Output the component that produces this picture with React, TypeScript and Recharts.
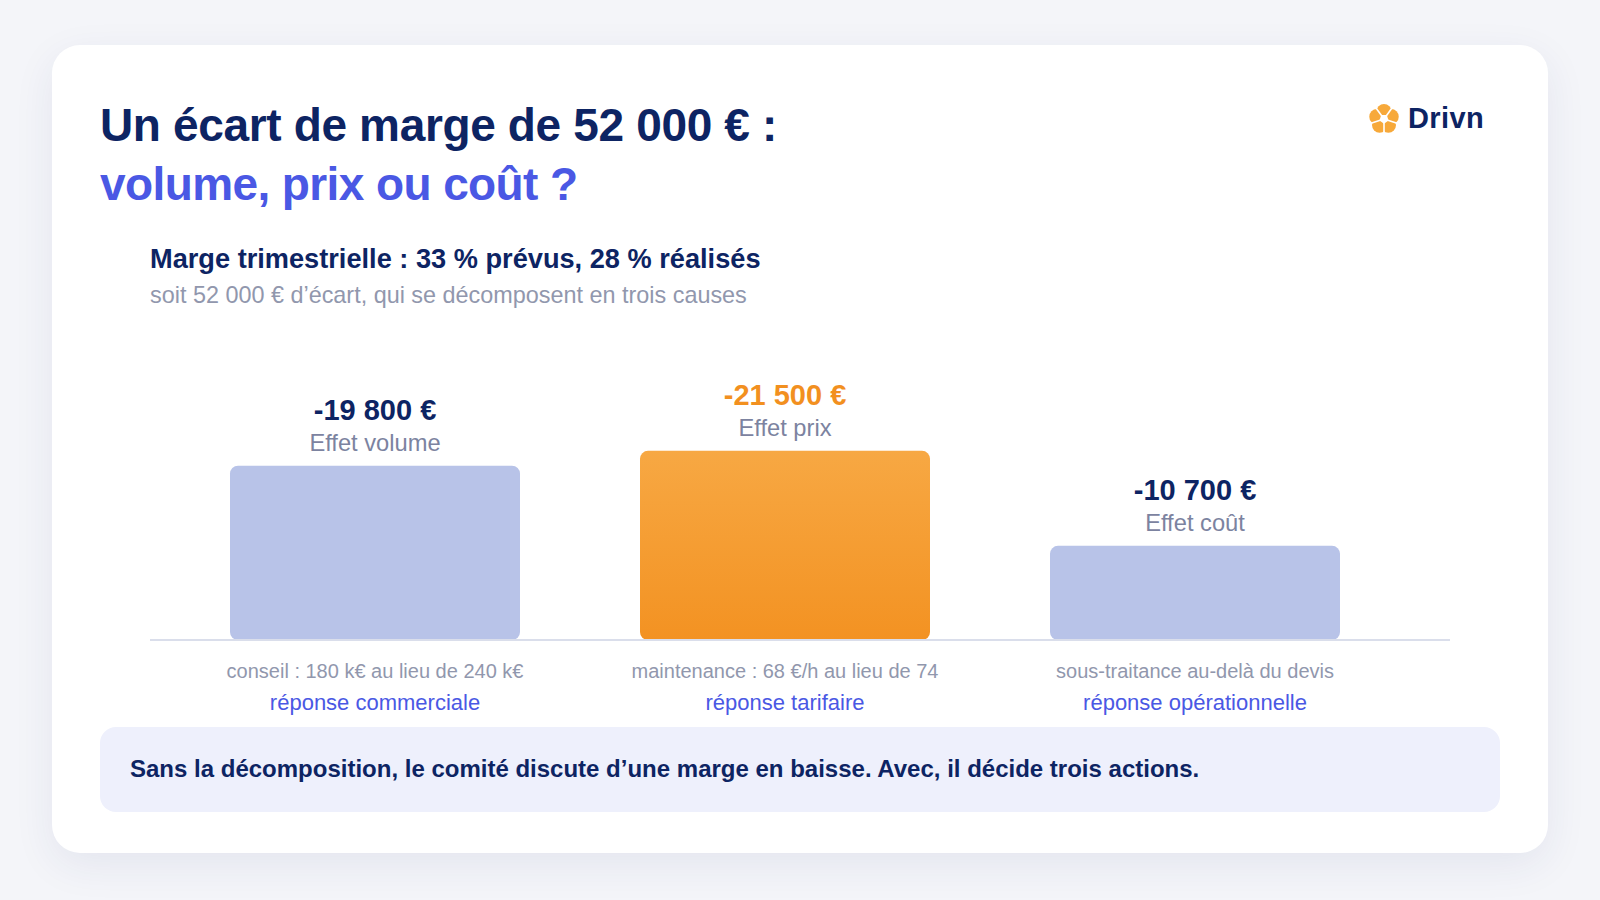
import React from 'react';
import { BarChart, Bar, XAxis, YAxis, Cell, LabelList } from 'recharts';

/* ─── Data ────────────────────────────────────────────────────────────── */

const EFFECTS = ['Effet volume', 'Effet prix', 'Effet coût'];
const VALUES = [-19800, -21500, -10700];
const DETAILS = [
  'conseil : 180 k€ au lieu de 240 k€',
  'maintenance : 68 €/h au lieu de 74',
  'sous-traitance au-delà du devis',
];
const RESPONSES = ['réponse commerciale', 'réponse tarifaire', 'réponse opérationnelle'];
const HIGHLIGHT = [false, true, false];
const Y_DOMAIN = [0, 25000];

/* ─── Colors ──────────────────────────────────────────────────────────── */

const NAVY = '#0d2463';
const INDIGO = '#4a58e4';
const MUTED = '#7c83a0';
const LIGHT_MUTED = '#9197ad';
const BAR_LIGHT = '#b8c3e8';
const ORANGE = '#f2901f';
const FONT = '"Liberation Sans", Arial, Helvetica, sans-serif';

const data = EFFECTS.map((name, i) => ({ name, value: Math.abs(VALUES[i]) }));

const fmt = (v: number) =>
  (v < 0 ? '-' : '') + String(Math.abs(v)).replace(/\B(?=(\d{3})+(?!\d))/g, ' ') + ' €';

/* ─── Text helper (positions by baseline) ─────────────────────────────── */

function T({
  x,
  baseline,
  size,
  color,
  bold,
  spacing,
  children,
}: {
  x: number;
  baseline: number;
  size: number;
  color: string;
  bold?: boolean;
  spacing?: number;
  children: React.ReactNode;
}) {
  return (
    <div
      style={{
        position: 'absolute',
        left: x,
        top: baseline - 0.8465 * size,
        fontSize: size,
        lineHeight: 1,
        fontWeight: bold ? 700 : 400,
        color,
        letterSpacing: spacing ?? 0,
        whiteSpace: 'nowrap',
        fontFamily: FONT,
      }}
    >
      {children}
    </div>
  );
}

/* ─── Chart pieces ────────────────────────────────────────────────────── */

// eslint-disable-next-line @typescript-eslint/no-explicit-any
const renderTop = (props: any) => {
  const { x, y, width, index } = props;
  if (typeof x !== 'number' || typeof y !== 'number') return null;
  const cx = x + width / 2;
  return (
    <g>
      <text
        x={cx}
        y={y - 46}
        textAnchor="middle"
        fontSize={29}
        fontWeight={700}
        fill={HIGHLIGHT[index] ? ORANGE : NAVY}
        fontFamily={FONT}
      >
        {fmt(VALUES[index])}
      </text>
      <text x={cx} y={y - 15} textAnchor="middle" fontSize={23.7} fill={MUTED} fontFamily={FONT}>
        {EFFECTS[index]}
      </text>
    </g>
  );
};

// eslint-disable-next-line @typescript-eslint/no-explicit-any
const renderTick = (props: any) => {
  const { x, y, index } = props;
  return (
    <g>
      <text x={x} y={y + 30} textAnchor="middle" fontSize={20} fill={LIGHT_MUTED} fontFamily={FONT}>
        {DETAILS[index]}
      </text>
      <text x={x} y={y + 62} textAnchor="middle" fontSize={22} fill={INDIGO} fontFamily={FONT}>
        {RESPONSES[index]}
      </text>
    </g>
  );
};

function Logo() {
  const cx = 1384;
  const cy = 119;
  const petals = [0, 1, 2, 3, 4].map((k) => {
    const a = ((-90 + 72 * k) * Math.PI) / 180;
    return { x: cx + Math.cos(a) * 7.5, y: cy + Math.sin(a) * 7.5 };
  });
  const gaps = [0, 1, 2, 3, 4].map((k) => {
    const a = ((-90 + 36 + 72 * k) * Math.PI) / 180;
    return { x: cx + Math.cos(a) * 17, y: cy + Math.sin(a) * 17 };
  });
  const star = [0, 1, 2, 3, 4]
    .map((k) => {
      const a = ((90 + 72 * k) * Math.PI) / 180;
      return `${cx + Math.cos(a) * 4.8},${cy + Math.sin(a) * 4.8}`;
    })
    .join(' ');
  return (
    <>
      <svg
        width={1600}
        height={900}
        style={{ position: 'absolute', left: 0, top: 0, pointerEvents: 'none' }}
      >
        {petals.map((p, i) => (
          <circle key={i} cx={p.x} cy={p.y} r={7.6} fill="#f7a93a" />
        ))}
        {gaps.map((g, i) => (
          <line key={i} x1={cx} y1={cy} x2={g.x} y2={g.y} stroke="#fff" strokeWidth={1.6} />
        ))}
        <polygon points={star} fill="#fff" />
      </svg>
      <T x={1408} baseline={129} size={29} color={NAVY} bold spacing={0.4}>
        Drivn
      </T>
    </>
  );
}

/* ─── Main export ─────────────────────────────────────────────────────── */

export default function App() {
  return (
    <div
      style={{
        position: 'absolute',
        left: 0,
        top: 0,
        width: 1600,
        height: 900,
        background: '#f4f5f9',
        overflow: 'hidden',
        fontFamily: FONT,
      }}
    >
      <div
        style={{
          position: 'absolute',
          left: 52,
          top: 45,
          width: 1496,
          height: 808,
          background: '#ffffff',
          borderRadius: 28,
          boxShadow: '0 12px 40px rgba(40, 50, 110, 0.08)',
        }}
      />

      <T x={100} baseline={141} size={46} color={NAVY} bold spacing={-0.35}>
        Un écart de marge de 52 000 € :
      </T>
      <T x={100} baseline={200} size={46} color={INDIGO} bold spacing={-0.6}>
        volume, prix ou coût ?
      </T>

      <Logo />

      <T x={150} baseline={268} size={27.2} color={NAVY} bold>
        Marge trimestrielle : 33 % prévus, 28 % réalisés
      </T>
      <T x={150} baseline={304} size={23.4} color={LIGHT_MUTED}>
        soit 52 000 € d’écart, qui se décomposent en trois causes
      </T>

      <div style={{ position: 'absolute', left: 100, top: 330 }}>
        <BarChart
          width={1400}
          height={400}
          data={data}
          margin={{ top: 90, right: 50, bottom: 10, left: 50 }}
        >
          <defs>
            <linearGradient id="orangeGrad" x1="0" y1="0" x2="0" y2="1">
              <stop offset="0%" stopColor="#f7a843" />
              <stop offset="100%" stopColor="#f39222" />
            </linearGradient>
          </defs>
          <XAxis
            dataKey="name"
            height={80}
            padding={{ left: 20, right: 50 }}
            axisLine={{ stroke: '#dadeeb', strokeWidth: 2 }}
            tickLine={false}
            tick={renderTick}
            interval={0}
          />
          <YAxis hide domain={Y_DOMAIN} />
          <Bar dataKey="value" barSize={290} radius={8} isAnimationActive={false}>
            {data.map((_, i) => (
              <Cell key={i} fill={HIGHLIGHT[i] ? 'url(#orangeGrad)' : BAR_LIGHT} />
            ))}
            <LabelList dataKey="value" content={renderTop} />
          </Bar>
        </BarChart>
      </div>

      <div
        style={{
          position: 'absolute',
          left: 100,
          top: 727,
          width: 1400,
          height: 85,
          background: '#eef0fc',
          borderRadius: 16,
        }}
      />
      <T x={130} baseline={777} size={24} color={NAVY} bold>
        Sans la décomposition, le comité discute d’une marge en baisse. Avec, il décide trois actions.
      </T>
    </div>
  );
}
